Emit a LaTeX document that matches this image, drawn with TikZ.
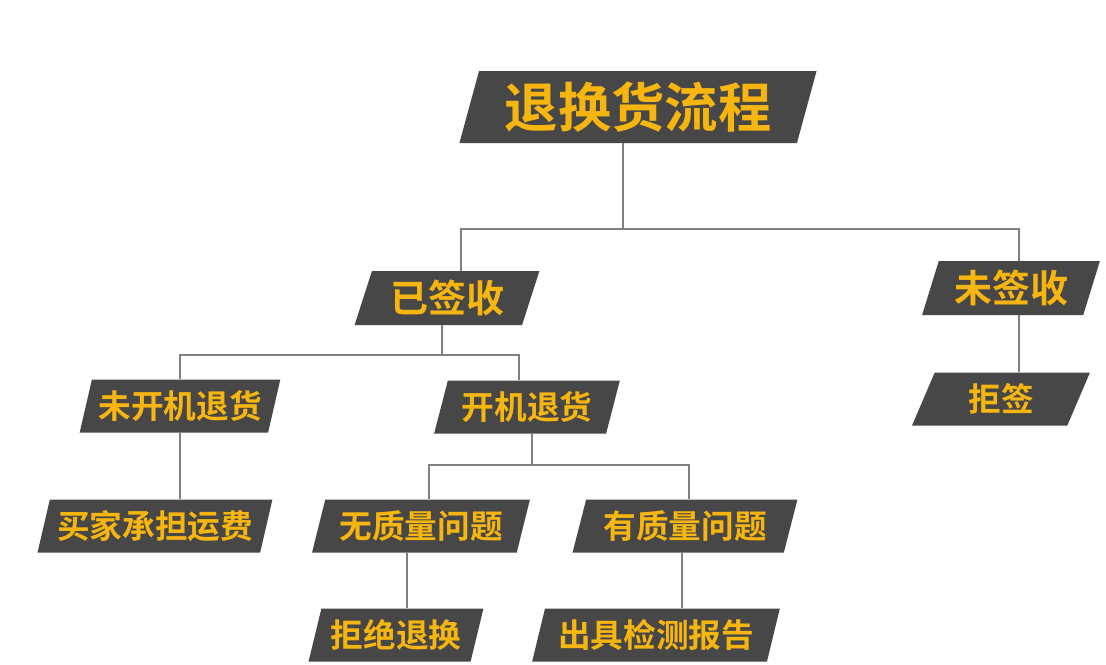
\documentclass[tikz,border=0pt]{standalone}
\usepackage{fontspec}
\usepackage{tikz}
\usetikzlibrary{shapes.geometric}
\newfontfamily\cjk{Noto Sans CJK SC}[BoldFont={Noto Sans CJK SC Bold}]
\definecolor{boxgray}{HTML}{474747}
\definecolor{txtorange}{HTML}{F7B50F}
\definecolor{linegray}{HTML}{808080}
\tikzset{
  box/.style={trapezium, trapezium left angle=70, trapezium right angle=110,
    trapezium stretches=true, fill=boxgray, text=txtorange, inner sep=0pt,
    minimum height=39.75pt, font=\cjk\bfseries\fontsize{24.5}{24.5}\selectfont},
  bigbox/.style={box, font=\cjk\bfseries\fontsize{28.5}{28.5}\selectfont, minimum height=40.5pt},
  link/.style={draw=linegray, line width=1.1pt}
}

\begin{document}
\begin{tikzpicture}[x=0.75pt, y=-0.75pt]
  \useasboundingbox[fill=white] (0,0) rectangle (1106,664);

  \node[box, trapezium left angle=72, trapezium right angle=108, minimum width=268.5pt, minimum height=54pt,
        font=\cjk\bfseries\fontsize{40}{40}\selectfont] (title) at (638,107) {退换货流程};

  \node[bigbox, minimum width=138.75pt] (signed) at (447,298) {已签收};
  \node[bigbox, minimum width=133.5pt] (unsigned) at (1011,288) {未签收};

  \node[box, minimum width=150.75pt] (unopened) at (180,406) {未开机退货};
  \node[box, minimum width=139.5pt] (opened) at (527,407) {开机退货};
  \node[box, minimum width=133.5pt] (refuse) at (1001,399) {拒签};

  \node[box, minimum width=176.25pt] (buyerpays) at (155,526) {买家承担运费};
  \node[box, minimum width=163.5pt] (noquality) at (421,526) {无质量问题};
  \node[box, minimum width=168.75pt] (quality) at (685,526) {有质量问题};

  \node[box, minimum width=131.25pt] (reject) at (396,635) {拒绝退换};
  \node[box, minimum width=186pt] (report) at (656,635) {出具检测报告};

  % branch points
  \coordinate (top) at (623,229);
  \coordinate (topl) at (461,229);
  \coordinate (topr) at (1019,229);
  \coordinate (mid) at (442,355);
  \coordinate (midl) at (180,355);
  \coordinate (midr) at (519,355);
  \coordinate (low) at (532,465);
  \coordinate (lowl) at (429,465);
  \coordinate (lowr) at (689,465);

  \draw[link] (top |- title.south) -- (top);
  \draw[link] (topl |- signed.north) -- (topl) -- (topr) -- (topr |- unsigned.north);
  \draw[link] (topr |- unsigned.south) -- (topr |- refuse.north);

  \draw[link] (mid |- signed.south) -- (mid);
  \draw[link] (midl |- unopened.north) -- (midl) -- (midr) -- (midr |- opened.north);
  \draw[link] (midl |- unopened.south) -- (midl |- buyerpays.north);

  \draw[link] (low |- opened.south) -- (low);
  \draw[link] (lowl |- noquality.north) -- (lowl) -- (lowr) -- (lowr |- quality.north);
  \draw[link] (noquality.south) ++(-14,0) coordinate (nq) -- (nq |- reject.north);
  \draw[link] (quality.south) ++(-3,0) coordinate (q) -- (q |- report.north);
\end{tikzpicture}
\end{document}
